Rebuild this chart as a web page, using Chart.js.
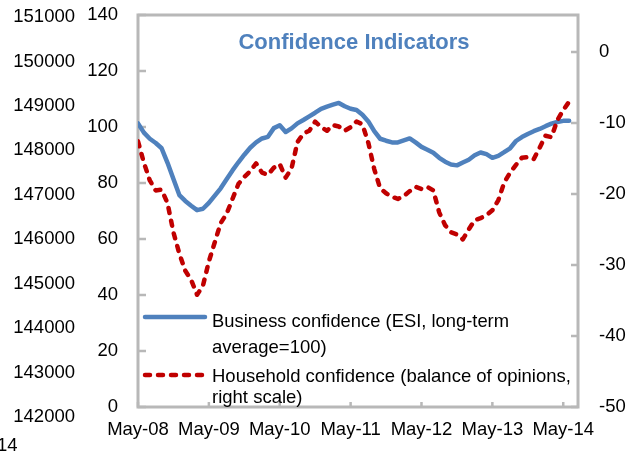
<!DOCTYPE html>
<html>
<head>
<meta charset="utf-8">
<script src="https://cdn.jsdelivr.net/npm/chart.js@4.4.1/dist/chart.umd.min.js"></script>
<style>
  html, body { margin: 0; padding: 0; background: #fff; }
</style>
</head>
<body>
<canvas id="confidenceChart" width="628" height="452"></canvas>
<script>
// months counted from May-08 (0) onwards
const tickMonths = [0, 12, 24, 36, 48, 60, 72];
const tickLabels = ['May-08', 'May-09', 'May-10', 'May-11', 'May-12', 'May-13', 'May-14'];

const leftTicks = [0, 20, 40, 60, 80, 100, 120, 140];
const rightTicks = [-50, -40, -30, -20, -10, 0];
const outerTicks = [142000, 143000, 144000, 145000, 146000, 147000, 148000, 149000, 150000, 151000];

const businessConfidence = [
  101.3, 98.0, 95.8, 94.3, 92.4, 87.2, 81.4, 75.7, 73.6, 71.9,
  70.3, 70.8, 72.9, 75.5, 78.1, 81.3, 84.5, 87.4, 90.1, 92.6,
  94.5, 95.9, 96.5, 99.6, 100.6, 98.2, 99.5, 101.3, 102.5, 103.8,
  105.1, 106.5, 107.3, 108.0, 108.6, 107.4, 106.5, 106.1, 104.4, 102.0,
  98.5, 95.8, 95.1, 94.5, 94.5, 95.2, 95.9, 94.5, 92.9, 91.9,
  90.8, 89.0, 87.6, 86.6, 86.3, 87.3, 88.3, 89.9, 90.9, 90.3,
  89.0, 89.7, 91.0, 92.4, 95.0, 96.4, 97.5, 98.5, 99.3, 100.3,
  101.2, 101.8, 102.2, 102.2
];

const householdConfidence = [
  -12.6, -15.6, -18.1, -19.5, -19.4, -21.3, -25.4, -28.4, -30.8, -32.1,
  -34.2, -32.9, -29.5, -26.8, -24.1, -22.8, -20.7, -18.6, -17.6, -16.8,
  -15.7, -17.0, -17.3, -16.3, -15.8, -17.7, -16.4, -12.7, -11.5, -11.1,
  -9.8, -10.6, -11.1, -10.3, -10.5, -11.1, -10.6, -9.8, -10.2, -12.8,
  -16.5, -19.2, -19.9, -20.4, -20.7, -20.3, -19.6, -19.0, -19.3, -19.0,
  -19.5, -22.6, -24.4, -25.4, -25.7, -26.4, -25.0, -23.7, -23.4, -23.0,
  -22.3, -20.9, -18.4, -17.0, -15.9, -14.9, -14.8, -15.1, -13.5, -11.8,
  -12.0, -9.6, -8.2, -7.0
];

const FONT = '"Liberation Sans", Arial, sans-serif';
const BLUE = '#4f81bd';
const RED = '#c00000';
const FRAME = '#b8b8b8';

Chart.defaults.font.family = FONT;
Chart.defaults.font.size = 18.5;
Chart.defaults.color = '#000';

// no extra room for overhanging tick labels
const noOverhang = (s) => {
  s.paddingTop = 0;
  s.paddingBottom = 0;
  s.paddingLeft = 0;
  s.paddingRight = 0;
};

// grey frame with inward tick marks
const framePlugin = {
  id: 'frame',
  beforeDatasetsDraw(chart) {
    const { ctx, chartArea: a, scales } = chart;
    ctx.save();
    ctx.strokeStyle = FRAME;
    ctx.lineWidth = 3;
    ctx.strokeRect(a.left, a.top, a.right - a.left, a.bottom - a.top);
    ctx.lineWidth = 2.5;
    ctx.beginPath();
    leftTicks.forEach((v) => {
      const y = scales.y.getPixelForValue(v);
      ctx.moveTo(a.left, y);
      ctx.lineTo(a.left + 8, y);
    });
    rightTicks.forEach((v) => {
      const y = scales.y2.getPixelForValue(v);
      ctx.moveTo(a.right, y);
      ctx.lineTo(a.right - 7, y);
    });
    tickMonths.forEach((v) => {
      const x = scales.x.getPixelForValue(v);
      ctx.moveTo(x, a.bottom);
      ctx.lineTo(x, a.bottom - 5);
    });
    ctx.stroke();
    ctx.restore();
  },
  afterDatasetsDraw(chart) {
    const { ctx } = chart;
    ctx.save();
    // title
    ctx.fillStyle = BLUE;
    ctx.font = 'bold 22px ' + FONT;
    ctx.textAlign = 'center';
    ctx.textBaseline = 'alphabetic';
    ctx.fillText('Confidence Indicators', 354, 49);

    // legend
    ctx.lineWidth = 4.5;
    ctx.lineCap = 'round';
    ctx.strokeStyle = BLUE;
    ctx.beginPath();
    ctx.moveTo(145, 317);
    ctx.lineTo(205, 317);
    ctx.stroke();
    ctx.strokeStyle = RED;
    ctx.setLineDash([5, 8]);
    ctx.beginPath();
    ctx.moveTo(145, 375);
    ctx.lineTo(207, 375);
    ctx.stroke();
    ctx.setLineDash([]);

    ctx.fillStyle = '#000';
    ctx.font = '18.5px ' + FONT;
    ctx.textAlign = 'left';
    ctx.fillText('Business confidence (ESI, long-term', 212, 327, 297);
    ctx.fillText('average=100)', 212, 353);
    ctx.fillText('Household confidence (balance of opinions,', 212, 382, 364);
    ctx.fillText('right scale)', 212, 403);

    // stray label cut at the edge
    ctx.fillText('14', -3, 451);
    ctx.restore();
  }
};

const ctx = document.getElementById('confidenceChart');
new Chart(ctx, {
  type: 'line',
  data: {
    datasets: [
      {
        label: 'Business confidence (ESI, long-term average=100)',
        data: businessConfidence.map((v, i) => ({ x: i, y: v })),
        yAxisID: 'y',
        borderColor: BLUE,
        borderWidth: 4.5,
        borderJoinStyle: 'round',
        borderCapStyle: 'round',
        pointRadius: 0,
        tension: 0,
        order: 1,
      },
      {
        label: 'Household confidence (balance of opinions, right scale)',
        data: householdConfidence.map((v, i) => ({ x: i, y: v })),
        yAxisID: 'y2',
        borderColor: RED,
        borderWidth: 4.5,
        borderDash: [5, 8],
        borderCapStyle: 'round',
        borderJoinStyle: 'round',
        pointRadius: 0,
        tension: 0,
        order: 0,
      },
    ],
  },
  options: {
    responsive: false,
    animation: false,
    layout: { padding: { top: 15, left: 0, right: 0, bottom: 0 } },
    plugins: {
      legend: { display: false },
      tooltip: { enabled: false },
    },
    scales: {
      x: {
        type: 'linear',
        min: 0,
        max: 74.5,
        grid: { display: false, drawTicks: false },
        border: { display: false },
        ticks: {
          autoSkip: false,
          maxRotation: 0,
          padding: 12,
          callback: (v) => tickLabels[tickMonths.indexOf(v)],
        },
        afterBuildTicks: (s) => { s.ticks = tickMonths.map((v) => ({ value: v })); },
        afterFit: (s) => { s.height = 45; noOverhang(s); },
      },
      y3: {
        position: 'left',
        weight: 2,
        min: 142225,
        max: 151045,
        grid: { display: false, drawTicks: false },
        border: { display: false },
        ticks: { autoSkip: false, padding: 3, callback: (v) => String(v) },
        afterBuildTicks: (s) => { s.ticks = outerTicks.map((v) => ({ value: v })); },
        afterFit: (s) => { s.width = 78; noOverhang(s); },
      },
      y: {
        position: 'left',
        weight: 1,
        min: 0,
        max: 140,
        grid: { display: false, drawTicks: false },
        border: { display: false },
        ticks: { autoSkip: false, padding: 20 },
        afterBuildTicks: (s) => { s.ticks = leftTicks.map((v) => ({ value: v })); },
        afterFit: (s) => { s.width = 60; noOverhang(s); },
      },
      y2: {
        position: 'right',
        min: -50,
        max: 5.2,
        grid: { display: false, drawTicks: false },
        border: { display: false },
        ticks: { autoSkip: false, padding: 21 },
        afterBuildTicks: (s) => { s.ticks = rightTicks.map((v) => ({ value: v })); },
        afterFit: (s) => { s.width = 50; noOverhang(s); },
      },
    },
  },
  plugins: [framePlugin],
});
</script>
</body>
</html>
